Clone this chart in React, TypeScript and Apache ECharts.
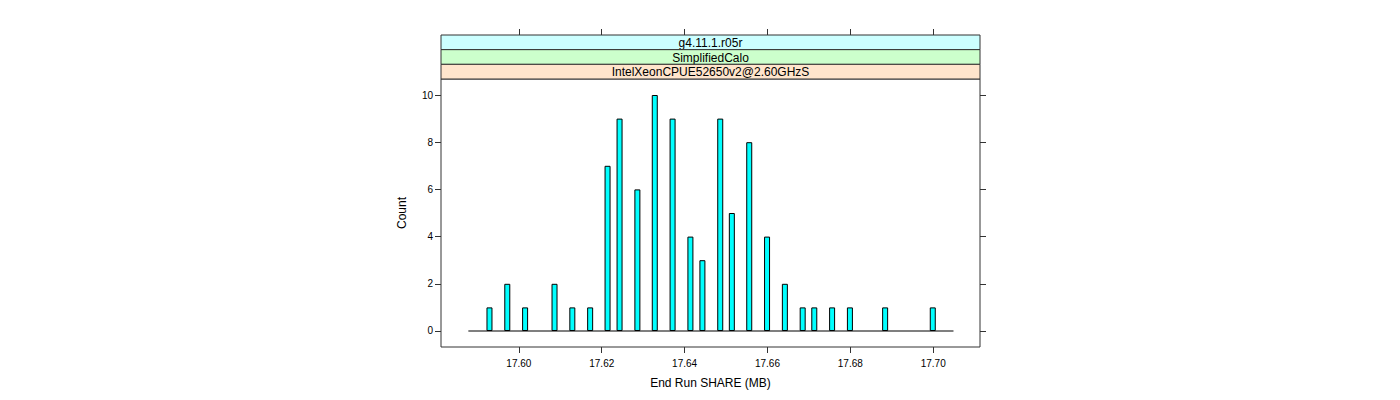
import React, { useEffect, useRef } from "react";
import * as echarts from "echarts";

const shareValues = [
  17.5929, 17.5972, 17.6015, 17.6086, 17.6129, 17.6172, 17.6214, 17.6243,
  17.6286, 17.6328, 17.6371, 17.6414, 17.6443, 17.6486, 17.6514, 17.6556,
  17.6599, 17.6642, 17.6685, 17.6713, 17.6756, 17.6799, 17.6884, 17.6999,
];
const counts = [1, 2, 1, 2, 1, 1, 7, 9, 6, 10, 9, 4, 3, 9, 5, 8, 4, 2, 1, 1, 1, 1, 1, 1];
const baselineRange = [17.5878, 17.7049];
const xTicks = [17.6, 17.62, 17.64, 17.66, 17.68, 17.7];
const yTicks = [0, 2, 4, 6, 8, 10];
const strips = ["g4.11.1.r05r", "SimplifiedCalo", "IntelXeonCPUE52650v2@2.60GHzS"];
const stripColors = ["#CCFFFF", "#CCFFCC", "#FFE5CC"];

const FONT = "Liberation Sans, Arial, Helvetica, sans-serif";

export default function App() {
  const ref = useRef<HTMLDivElement>(null);
  useEffect(() => {
    document.body.style.margin = "0";
    const chart = echarts.init(ref.current!, null, { renderer: "svg" });
    const L = 441, R = 980, T = 79, B = 347, STOP = 35;
    const xMin = 17.5812, xMax = 17.7113;
    const stripH = (T - STOP) / strips.length;
    const graphics: any[] = strips.map((s, i) => ({
      type: "group",
      children: [
        {
          type: "rect",
          shape: { x: L, y: STOP + i * stripH, width: R - L, height: stripH },
          style: { fill: stripColors[i], stroke: "#333", lineWidth: 1 },
        },
        {
          type: "text",
          x: (L + R) / 2,
          y: STOP + i * stripH + stripH / 2 + 0.5,
          style: {
            text: s,
            fill: "#000",
            font: `12px ${FONT}`,
            textAlign: "center",
            textVerticalAlign: "middle",
          },
        },
      ],
    }));
    chart.setOption({
      animation: false,
      textStyle: { fontFamily: FONT },
      grid: [
        { left: L, right: 1400 - R, top: T, bottom: 400 - B, show: true, borderColor: "#333", borderWidth: 1, backgroundColor: "transparent" },
        { left: L, right: 1400 - R, top: STOP, bottom: 400 - B, show: false },
      ],
      xAxis: [
        {
          type: "value",
          gridIndex: 0,
          position: "bottom",
          min: xMin,
          max: xMax,
          name: "End Run SHARE (MB)",
          nameLocation: "middle",
          nameGap: 30,
          nameTextStyle: { color: "#000", fontSize: 12, fontFamily: FONT },
          axisLine: { show: false, onZero: false },
          splitLine: { show: false },
          axisTick: { show: true, length: 6, lineStyle: { color: "#333" }, customValues: xTicks },
          axisLabel: {
            show: true,
            color: "#000",
            fontSize: 10,
            margin: 11,
            customValues: xTicks,
            formatter: (v: number) => v.toFixed(2),
          },
        },
        {
          type: "value",
          gridIndex: 1,
          position: "top",
          min: xMin,
          max: xMax,
          axisLine: { show: false, onZero: false },
          splitLine: { show: false },
          axisTick: { show: true, length: 6, lineStyle: { color: "#333" }, customValues: xTicks },
          axisLabel: { show: false },
        },
      ],
      yAxis: [
        {
          type: "value",
          gridIndex: 0,
          position: "left",
          min: -0.678,
          max: 10.678,
          name: "Count",
          nameLocation: "middle",
          nameGap: 33,
          nameRotate: 90,
          nameTextStyle: { color: "#000", fontSize: 12, fontFamily: FONT },
          axisLine: { show: false, onZero: false },
          splitLine: { show: false },
          axisTick: { show: true, length: 6, lineStyle: { color: "#333" }, customValues: yTicks },
          axisLabel: { show: true, color: "#000", fontSize: 10, margin: 8, customValues: yTicks },
        },
        {
          type: "value",
          gridIndex: 0,
          position: "right",
          min: -0.678,
          max: 10.678,
          axisLine: { show: false, onZero: false },
          splitLine: { show: false },
          axisTick: { show: true, length: 6, lineStyle: { color: "#333" }, customValues: yTicks },
          axisLabel: { show: false },
        },
        {
          type: "value",
          gridIndex: 1,
          min: 0,
          max: 1,
          axisLine: { show: false, onZero: false },
          axisTick: { show: false },
          axisLabel: { show: false },
          splitLine: { show: false },
        },
      ],
      series: [
        {
          type: "line",
          xAxisIndex: 0,
          yAxisIndex: 0,
          data: [[baselineRange[0], 0], [baselineRange[1], 0]],
          symbol: "none",
          lineStyle: { color: "#000", width: 1.2 },
          silent: true,
        },
        {
          type: "bar",
          xAxisIndex: 0,
          yAxisIndex: 0,
          barWidth: 6,
          data: shareValues.map((x, i) => [x, counts[i]]),
          itemStyle: { color: "#00FFFF", borderColor: "#000", borderWidth: 1 },
        },
      ],
      graphic: graphics,
    });
    return () => chart.dispose();
  }, []);
  return <div ref={ref} style={{ width: 1400, height: 400 }} />;
}
